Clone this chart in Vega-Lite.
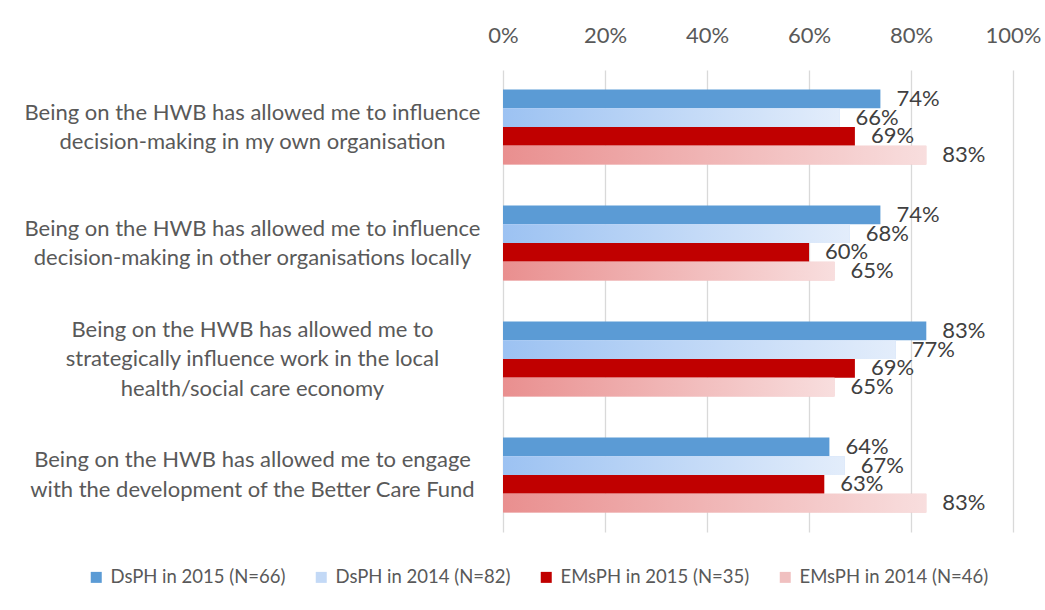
{
  "$schema": "https://vega.github.io/schema/vega-lite/v6.json",
  "width": 510,
  "height": 462,
  "autosize": "none",
  "padding": {"left": 503, "top": 70, "right": 32, "bottom": 78},
  "background": "white",
  "config": {
    "view": {"stroke": null},
    "font": "Lato",
    "text": {"font": "Lato"}
  },
  "data": {
    "values": [
      {"statement": "Being on the HWB has allowed me to influence|decision-making in my own organisation", "series": "DsPH in 2015 (N=66)", "value": 0.74},
      {"statement": "Being on the HWB has allowed me to influence|decision-making in my own organisation", "series": "DsPH in 2014 (N=82)", "value": 0.66},
      {"statement": "Being on the HWB has allowed me to influence|decision-making in my own organisation", "series": "EMsPH in 2015 (N=35)", "value": 0.69},
      {"statement": "Being on the HWB has allowed me to influence|decision-making in my own organisation", "series": "EMsPH in 2014 (N=46)", "value": 0.83},
      {"statement": "Being on the HWB has allowed me to influence|decision-making in other organisations locally", "series": "DsPH in 2015 (N=66)", "value": 0.74},
      {"statement": "Being on the HWB has allowed me to influence|decision-making in other organisations locally", "series": "DsPH in 2014 (N=82)", "value": 0.68},
      {"statement": "Being on the HWB has allowed me to influence|decision-making in other organisations locally", "series": "EMsPH in 2015 (N=35)", "value": 0.60},
      {"statement": "Being on the HWB has allowed me to influence|decision-making in other organisations locally", "series": "EMsPH in 2014 (N=46)", "value": 0.65},
      {"statement": "Being on the HWB has allowed me to |strategically influence work in the local|health/social care economy", "series": "DsPH in 2015 (N=66)", "value": 0.83},
      {"statement": "Being on the HWB has allowed me to |strategically influence work in the local|health/social care economy", "series": "DsPH in 2014 (N=82)", "value": 0.77},
      {"statement": "Being on the HWB has allowed me to |strategically influence work in the local|health/social care economy", "series": "EMsPH in 2015 (N=35)", "value": 0.69},
      {"statement": "Being on the HWB has allowed me to |strategically influence work in the local|health/social care economy", "series": "EMsPH in 2014 (N=46)", "value": 0.65},
      {"statement": "Being on the HWB has allowed me to engage|with the development of the Better Care Fund", "series": "DsPH in 2015 (N=66)", "value": 0.64},
      {"statement": "Being on the HWB has allowed me to engage|with the development of the Better Care Fund", "series": "DsPH in 2014 (N=82)", "value": 0.67},
      {"statement": "Being on the HWB has allowed me to engage|with the development of the Better Care Fund", "series": "EMsPH in 2015 (N=35)", "value": 0.63},
      {"statement": "Being on the HWB has allowed me to engage|with the development of the Better Care Fund", "series": "EMsPH in 2014 (N=46)", "value": 0.83}
    ]
  },
  "encoding": {
    "y": {
      "field": "statement",
      "type": "nominal",
      "sort": null,
      "scale": {"paddingInner": 0.353, "paddingOuter": 0.168},
      "axis": {
        "title": null,
        "domain": false,
        "ticks": false,
        "labelExpr": "split(datum.label, '|')",
        "labelAlign": "center",
        "labelBaseline": "middle",
        "labelPadding": 251,
        "labelOffset": {"condition": {"test": "indexof(datum.value, 'strategically') >= 0", "value": -29}, "value": -14.5},
        "labelLimit": 0,
        "labelFontSize": 22,
        "labelLineHeight": 29.5,
        "labelColor": "#595959",
        "labelFont": "Lato"
      }
    },
    "yOffset": {
      "field": "series",
      "type": "nominal",
      "sort": ["DsPH in 2015 (N=66)", "DsPH in 2014 (N=82)", "EMsPH in 2015 (N=35)", "EMsPH in 2014 (N=46)"],
      "scale": {"domain": ["DsPH in 2015 (N=66)", "DsPH in 2014 (N=82)", "EMsPH in 2015 (N=35)", "EMsPH in 2014 (N=46)"], "paddingInner": 0, "paddingOuter": 0}
    },
    "x": {
      "field": "value",
      "type": "quantitative",
      "scale": {"domain": [0, 1]},
      "axis": {
        "orient": "top",
        "title": null,
        "format": ".0%",
        "values": [0, 0.2, 0.4, 0.6, 0.8, 1],
        "domain": false,
        "ticks": false,
        "grid": true,
        "gridColor": "#D9D9D9",
        "gridWidth": 1.3,
        "labelFlush": false,
        "labelFontSize": 22,
        "labelColor": "#595959",
        "labelPadding": 23,
        "labelFont": "Lato"
      }
    }
  },
  "layer": [
    {
      "mark": {"type": "bar"},
      "encoding": {
        "color": {
          "field": "series",
          "type": "nominal",
          "scale": {
            "domain": ["DsPH in 2015 (N=66)", "DsPH in 2014 (N=82)", "EMsPH in 2015 (N=35)", "EMsPH in 2014 (N=46)"],
            "range": ["#5B9BD5", "#C3D9F6", "#C00000", "#F0C0C0"]
          },
          "legend": {
            "title": null,
            "orient": "none",
            "direction": "horizontal",
            "columns": 4,
            "legendX": -416,
            "legendY": 498,
            "symbolType": "square",
            "symbolSize": 121,
            "symbolStrokeWidth": 0,
            "labelFontSize": 18.5,
            "labelColor": "#595959",
            "labelFont": "Lato",
            "labelOffset": 5,
            "columnPadding": 26,
            "labelLimit": 0
          }
        }
      }
    },
    {
      "transform": [{"filter": "datum.series == 'DsPH in 2014 (N=82)'"}],
      "mark": {
        "type": "bar",
        "color": {
          "gradient": "linear",
          "stops": [
            {"offset": 0, "color": "#9CC2F2"},
            {"offset": 1, "color": "#E3EDFB"}
          ]
        }
      }
    },
    {
      "transform": [{"filter": "datum.series == 'EMsPH in 2014 (N=46)'"}],
      "mark": {
        "type": "bar",
        "color": {
          "gradient": "linear",
          "stops": [
            {"offset": 0, "color": "#E98F8F"},
            {"offset": 1, "color": "#F8DEDE"}
          ]
        }
      }
    },
    {
      "mark": {"type": "text", "align": "left", "baseline": "middle", "dx": 16, "fontSize": 22, "color": "#404040", "font": "Lato"},
      "encoding": {
        "text": {"field": "value", "type": "quantitative", "format": ".0%"}
      }
    }
  ]
}
